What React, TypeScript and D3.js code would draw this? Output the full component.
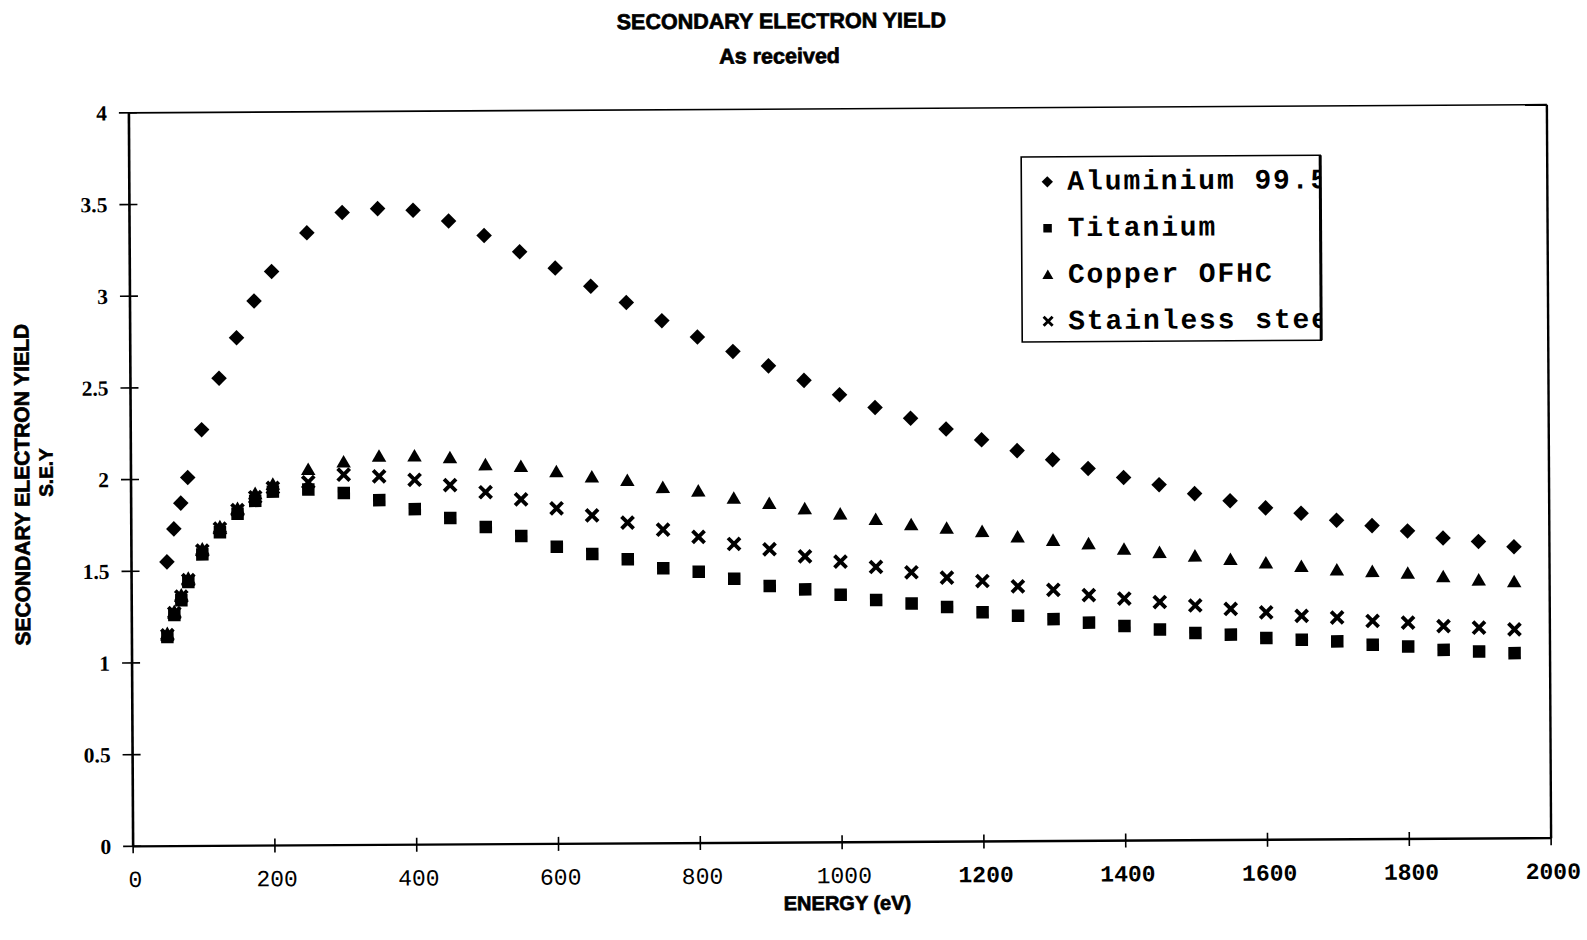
import React from 'react';
import * as d3 from 'd3';

// Primary energy of the incident beam (eV)
const energy = [
  50, 60, 70, 80, 100, 125, 150, 175, 200,
  250, 300, 350, 400, 450, 500, 550, 600, 650, 700,
  750, 800, 850, 900, 950, 1000, 1050, 1100, 1150, 1200,
  1250, 1300, 1350, 1400, 1450, 1500, 1550, 1600, 1650, 1700,
  1750, 1800, 1850, 1900, 1950,
];

// Secondary electron yield per material, one value per energy above
const aluminium = [
  1.55, 1.73, 1.87, 2.01, 2.27, 2.55, 2.77, 2.97, 3.13,
  3.34, 3.45, 3.47, 3.46, 3.40, 3.32, 3.23, 3.14, 3.04, 2.95,
  2.85, 2.76, 2.68, 2.60, 2.52, 2.44, 2.37, 2.31, 2.25, 2.19,
  2.13, 2.08, 2.03, 1.98, 1.94, 1.89, 1.85, 1.81, 1.78, 1.74,
  1.71, 1.68, 1.64, 1.62, 1.59,
];
const titanium = [
  1.14, 1.26, 1.34, 1.44, 1.59, 1.71, 1.81, 1.88, 1.93,
  1.94, 1.92, 1.88, 1.83, 1.78, 1.73, 1.68, 1.62, 1.58, 1.55,
  1.50, 1.48, 1.44, 1.40, 1.38, 1.35, 1.32, 1.30, 1.28, 1.25,
  1.23, 1.21, 1.19, 1.17, 1.15, 1.13, 1.12, 1.10, 1.09, 1.08,
  1.06, 1.05, 1.03, 1.02, 1.01,
];
const copper = [
  1.16, 1.28, 1.37, 1.46, 1.62, 1.74, 1.84, 1.92, 1.97,
  2.05, 2.09, 2.12, 2.12, 2.11, 2.07, 2.06, 2.03, 2.00, 1.98,
  1.94, 1.92, 1.88, 1.85, 1.82, 1.79, 1.76, 1.73, 1.71, 1.69,
  1.66, 1.64, 1.62, 1.59, 1.57, 1.55, 1.53, 1.51, 1.49, 1.47,
  1.46, 1.45, 1.43, 1.41, 1.40,
];
const stainless = [
  1.15, 1.27, 1.36, 1.45, 1.61, 1.73, 1.83, 1.90, 1.95,
  1.98, 2.02, 2.01, 1.99, 1.96, 1.92, 1.88, 1.83, 1.79, 1.75,
  1.71, 1.67, 1.63, 1.60, 1.56, 1.53, 1.50, 1.47, 1.44, 1.42,
  1.39, 1.37, 1.34, 1.32, 1.30, 1.28, 1.26, 1.24, 1.22, 1.21,
  1.19, 1.18, 1.16, 1.15, 1.14,
];

const seriesNames = ['Aluminium 99.5%', 'Titanium', 'Copper OFHC', 'Stainless steel'];
const seriesMarkers = ['diamond', 'square', 'triangle', 'cross'];

const xTicks = [0, 200, 400, 600, 800, 1000, 1200, 1400, 1600, 1800, 2000];
const yTicks = [0, 0.5, 1, 1.5, 2, 2.5, 3, 3.5, 4];

const title = 'SECONDARY ELECTRON YIELD';
const subtitle = 'As received';
const xTitle = 'ENERGY (eV)';
const yTitle = 'SECONDARY ELECTRON YIELD';
const yTitle2 = 'S.E.Y';

const W = 1587;
const H = 940;
const plot = { left: 131, right: 1549, top: 108.75, bottom: 842.25 };
const tilt = -0.33;
const cx = 840;
const cy = 475.5;

const sans = '"Liberation Sans", Arial, sans-serif';
const mono = '"Liberation Mono", "Courier New", monospace';
const serif = '"Liberation Serif", "Times New Roman", serif';

function markerPath(kind: string, size: number): string {
  if (kind === 'diamond' || kind === 'square') {
    return d3.symbol(d3.symbolSquare, size * size)() as string;
  }
  if (kind === 'triangle') {
    return d3.symbol(d3.symbolTriangle, 0.433 * size * size)() as string;
  }
  const s = size / 2;
  return `M${-s},${-s}L${s},${s}M${-s},${s}L${s},${-s}`;
}

function Marker({ kind, x, y, size }: { kind: string; x: number; y: number; size: number }) {
  const d = markerPath(kind, size);
  if (kind === 'cross') {
    return (
      <path d={d} transform={`translate(${x},${y})`} stroke="#000" strokeWidth={size * 0.32} fill="none" />
    );
  }
  const rot = kind === 'diamond' ? ' rotate(45)' : '';
  const dy = kind === 'triangle' ? size * 0.1 : 0;
  return <path d={d} transform={`translate(${x},${y + dy})${rot}`} fill="#000" />;
}

export default function App() {
  const x = d3.scaleLinear().domain([0, 2000]).range([plot.left, plot.right]);
  const y = d3.scaleLinear().domain([0, 4]).range([plot.bottom, plot.top]);

  const series = [aluminium, titanium, copper, stainless];
  const plotSizes = [11, 12.5, 14.5, 12];
  const legendSizes = [8, 8.5, 11, 9];

  const legend = { left: 1023, top: 158, right: 1322, bottom: 343 };
  const rowY = (i: number) => 183 + i * 46.5;

  return (
    <svg
      width={W}
      height={H}
      viewBox={`0 0 ${W} ${H}`}
      style={{ position: 'absolute', left: 0, top: 0, background: '#fff' }}
    >
      <defs>
        <clipPath id="legend-clip">
          <rect x={legend.left} y={legend.top} width={legend.right - legend.left - 1} height={legend.bottom - legend.top} />
        </clipPath>
      </defs>
      <rect width={W} height={H} fill="#fff" />
      <g transform={`rotate(${tilt} ${cx} ${cy})`}>
        {/* titles */}
        <text x={784} y={28} textAnchor="middle" fontFamily={sans} fontWeight="bold" fontSize={21.5}
          stroke="#000" strokeWidth={0.7} fill="#000">{title}</text>
        <text x={782} y={63} textAnchor="middle" fontFamily={sans} fontWeight="bold" fontSize={21.5}
          stroke="#000" strokeWidth={0.7} fill="#000">{subtitle}</text>

        {/* plot frame */}
        <line x1={plot.left} x2={plot.right} y1={plot.top} y2={plot.top} stroke="#000" strokeWidth={1.6} />
        <line x1={plot.right} x2={plot.right} y1={plot.top} y2={plot.bottom} stroke="#000" strokeWidth={2.4} />
        <line x1={plot.left} x2={plot.right} y1={plot.bottom} y2={plot.bottom} stroke="#000" strokeWidth={2.4} />
        <line x1={plot.left} x2={plot.left} y1={plot.top} y2={plot.bottom} stroke="#000" strokeWidth={2.6} />

        {/* y axis ticks and labels */}
        {yTicks.map((t) => (
          <g key={`y${t}`}>
            <line x1={plot.left - 10} x2={plot.left + 8} y1={y(t)} y2={y(t)} stroke="#000" strokeWidth={1.6} />
            <text x={plot.left - 22} y={y(t)} dy="0.35em" textAnchor="end" fontFamily={serif}
              fontWeight="bold" fontSize={21.5} fill="#000">{String(t)}</text>
          </g>
        ))}

        {/* x axis ticks and labels */}
        {xTicks.map((t) => (
          <g key={`x${t}`}>
            <line x1={x(t)} x2={x(t)} y1={plot.bottom - 7} y2={plot.bottom + 7} stroke="#000" strokeWidth={1.6} />
            <text x={x(t) + 2} y={883} textAnchor="middle" fontFamily={mono} fontSize={23}
              fontWeight={t >= 1200 ? 'bold' : 'normal'} fill="#000">{String(t)}</text>
          </g>
        ))}

        {/* axis titles */}
        <text x={845} y={910} textAnchor="middle" fontFamily={sans} fontWeight="bold" fontSize={20}
          stroke="#000" strokeWidth={0.7} fill="#000">{xTitle}</text>
        <text transform={`translate(22,480) rotate(-90)`} textAnchor="middle" dy="0.35em"
          fontFamily={sans} fontWeight="bold" fontSize={21} stroke="#000" strokeWidth={0.7} fill="#000">{yTitle}</text>
        <text transform={`translate(46,468) rotate(-90)`} textAnchor="middle" dy="0.35em"
          fontFamily={sans} fontWeight="bold" fontSize={19} stroke="#000" strokeWidth={0.7} fill="#000">{yTitle2}</text>

        {/* data points */}
        {series.map((vals, si) => (
          <g key={`s${si}`}>
            {vals.map((v, i) => (
              <Marker key={i} kind={seriesMarkers[si]} x={x(energy[i])} y={y(v)} size={plotSizes[si]} />
            ))}
          </g>
        ))}

        {/* legend */}
        <rect x={legend.left} y={legend.top} width={legend.right - legend.left} height={legend.bottom - legend.top}
          fill="#fff" stroke="#000" strokeWidth={1.6} />
        <line x1={legend.right} x2={legend.right} y1={legend.top} y2={legend.bottom} stroke="#000" strokeWidth={3} />
        <g clipPath="url(#legend-clip)">
          {seriesNames.map((name, i) => (
            <g key={name}>
              <Marker kind={seriesMarkers[i]} x={1049} y={rowY(i)} size={legendSizes[i]} />
              <text x={1069} y={rowY(i) + 8} fontFamily={mono} fontWeight="bold" fontSize={28}
                letterSpacing={1.9} fill="#000">{name}</text>
            </g>
          ))}
        </g>
      </g>
    </svg>
  );
}
